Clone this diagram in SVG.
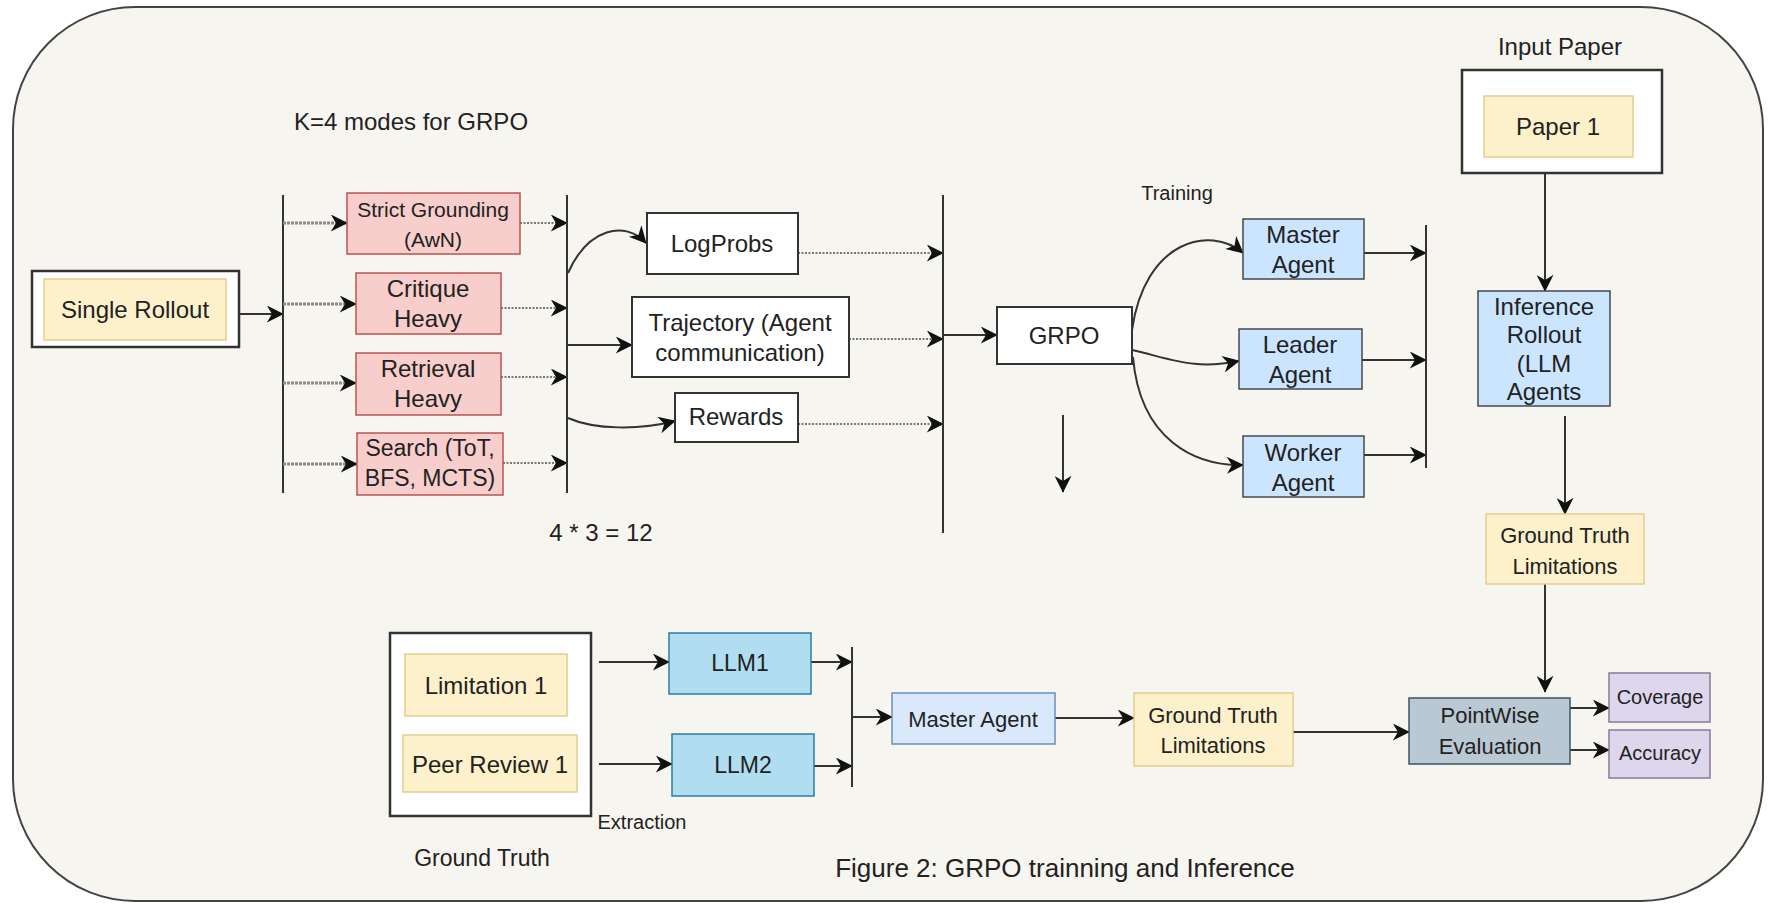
<svg xmlns="http://www.w3.org/2000/svg" width="1770" height="904" viewBox="0 0 1770 904">
<style>
text{font-family:"Liberation Sans",Arial,sans-serif;fill:#222;text-anchor:middle;dominant-baseline:central}
.f24{font-size:24px}.f22{font-size:22px}.f21{font-size:21px}.f20{font-size:20px}.f23{font-size:23px}
.white{fill:#fff;stroke:#333;stroke-width:2}
.frame{fill:#fff;stroke:#333;stroke-width:2.5}
.yel{fill:#fdf1cc;stroke:#e3cd8e;stroke-width:1.5}
.pink{fill:#f8cecc;stroke:#b85450;stroke-width:1.5}
.blue{fill:#cce5ff;stroke:#44484d;stroke-width:1.5}
.llm{fill:#b1ddf0;stroke:#2b7ea1;stroke-width:1.5}
.mast{fill:#dae8fc;stroke:#6c8ebf;stroke-width:1.5}
.pw{fill:#bac8d3;stroke:#3a5466;stroke-width:1.5}
.pur{fill:#ddd6ec;stroke:#857b9c;stroke-width:1.5}
.c{fill:none;stroke:#333;stroke-width:2;marker-end:url(#ah)}
.d{fill:none;stroke:#8a8a8a;stroke-width:3;stroke-dasharray:3 1;marker-end:url(#ah)}
.e{fill:none;stroke:#777;stroke-width:2;stroke-dasharray:2 1.5;marker-end:url(#ah)}
.bar{fill:none;stroke:#333;stroke-width:2}
</style>
<defs>
<marker id="ah" viewBox="0 0 10 10" refX="9.5" refY="5" markerWidth="20" markerHeight="17" markerUnits="userSpaceOnUse" orient="auto">
<path d="M0,0 L10,5 L0,10 L3,5 Z" fill="#111"/>
</marker>
</defs>
<rect x="13" y="7" width="1750" height="894" rx="122" ry="122" fill="#f7f5ef" stroke="#444" stroke-width="2"/>

<g id="labels">
<text class="f24" x="411" y="121">K=4 modes for GRPO</text>
<text class="f24" x="1560" y="46">Input Paper</text>
<text class="f20" x="1177" y="193">Training</text>
<text class="f24" x="601" y="532">4 * 3 = 12</text>
<text class="f20" x="642" y="822">Extraction</text>
<text class="f23" x="482" y="858">Ground Truth</text>
<text style="font-size:26px" x="1065" y="868">Figure 2: GRPO trainning and Inference</text>
</g>

<g id="connectors">
<path class="c" d="M239,314 H283"/>
<path class="bar" d="M283,195 V493"/>
<path class="d" d="M283,223 H347"/>
<path class="d" d="M283,304 H356"/>
<path class="d" d="M283,383 H356"/>
<path class="d" d="M283,464 H357"/>
<path class="e" d="M520,223 H567"/>
<path class="e" d="M501,308 H567"/>
<path class="e" d="M501,377 H567"/>
<path class="e" d="M503,463 H567"/>
<path class="bar" d="M567,195 V493"/>
<path class="c" d="M568,273 C588,228 625,220 646,243"/>
<path class="c" d="M568,345 H632"/>
<path class="c" d="M568,418 C595,430 640,430 675,421"/>
<path class="e" d="M798,253 H943"/>
<path class="e" d="M849,339 H943"/>
<path class="e" d="M798,424 H943"/>
<path class="bar" d="M943,195 V533"/>
<path class="c" d="M943,335 H997"/>
<path class="c" d="M1132,330 C1145,240 1210,225 1243,253"/>
<path class="c" d="M1132,350 C1175,360 1195,370 1239,361"/>
<path class="c" d="M1133,357 C1140,440 1195,466 1243,465"/>
<path class="c" d="M1063,415 V492"/>
<path class="c" d="M1364,253 H1426"/>
<path class="c" d="M1358,360 H1426"/>
<path class="c" d="M1360,455 H1426"/>
<path class="bar" d="M1426,225 V468"/>
<path class="c" d="M1545,173 V291"/>
<path class="c" d="M1565,416 V514"/>
<path class="c" d="M1545,584 V692"/>
<path class="c" d="M1570,708 H1609"/>
<path class="c" d="M1570,750 H1609"/>
<path class="c" d="M599,662 H669"/>
<path class="c" d="M599,764 H672"/>
<path class="c" d="M811,662 H852"/>
<path class="c" d="M814,766 H852"/>
<path class="bar" d="M852,647 V787"/>
<path class="c" d="M852,717 H892"/>
<path class="c" d="M1055,718 H1134"/>
<path class="c" d="M1293,732 H1409"/>
</g>

<g id="single-rollout">
<rect class="frame" x="32" y="271" width="207" height="76"/>
<rect class="yel" x="44" y="279" width="182" height="61"/>
<text class="f24" x="135" y="309">Single Rollout</text>
</g>
<g id="strict-grounding">
<rect class="pink" x="347" y="193" width="173" height="61"/>
<text class="f21" x="433" y="209">Strict Grounding</text>
<text class="f21" x="433" y="239">(AwN)</text>
</g>
<g id="critique-heavy">
<rect class="pink" x="356" y="273" width="145" height="61"/>
<text class="f24" x="428" y="288">Critique</text>
<text class="f24" x="428" y="318">Heavy</text>
</g>
<g id="retrieval-heavy">
<rect class="pink" x="356" y="353" width="145" height="62"/>
<text class="f24" x="428" y="368">Retrieval</text>
<text class="f24" x="428" y="398">Heavy</text>
</g>
<g id="search">
<rect class="pink" x="357" y="433" width="146" height="62"/>
<text class="f23" x="430" y="448">Search (ToT,</text>
<text class="f23" x="430" y="478">BFS, MCTS)</text>
</g>
<g id="logprobs">
<rect class="white" x="647" y="213" width="151" height="61"/>
<text class="f24" x="722" y="243">LogProbs</text>
</g>
<g id="trajectory">
<rect class="white" x="632" y="297" width="217" height="80"/>
<text class="f24" x="740" y="322">Trajectory (Agent</text>
<text class="f24" x="740" y="352">communication)</text>
</g>
<g id="rewards">
<rect class="white" x="675" y="393" width="123" height="49"/>
<text class="f24" x="736" y="416">Rewards</text>
</g>
<g id="grpo">
<rect class="white" x="997" y="307" width="135" height="57"/>
<text class="f24" x="1064" y="335">GRPO</text>
</g>
<g id="master-agent">
<rect class="blue" x="1243" y="219" width="121" height="60"/>
<text class="f24" x="1303" y="234">Master</text>
<text class="f24" x="1303" y="264">Agent</text>
</g>
<g id="leader-agent">
<rect class="blue" x="1239" y="329" width="123" height="60"/>
<text class="f24" x="1300" y="344">Leader</text>
<text class="f24" x="1300" y="374">Agent</text>
</g>
<g id="worker-agent">
<rect class="blue" x="1243" y="436" width="121" height="61"/>
<text class="f24" x="1303" y="452">Worker</text>
<text class="f24" x="1303" y="482">Agent</text>
</g>
<g id="input-paper">
<rect class="frame" x="1462" y="70" width="200" height="103"/>
<rect class="yel" x="1484" y="96" width="149" height="61"/>
<text class="f24" x="1558" y="126">Paper 1</text>
</g>
<g id="inference-rollout">
<rect class="blue" x="1478" y="291" width="132" height="115"/>
<text class="f24" x="1544" y="306">Inference</text>
<text class="f24" x="1544" y="334">Rollout</text>
<text class="f24" x="1544" y="363">(LLM</text>
<text class="f24" x="1544" y="391">Agents</text>
</g>
<g id="gt-limitations-right">
<rect class="yel" x="1486" y="514" width="158" height="70"/>
<text class="f22" x="1565" y="535">Ground Truth</text>
<text class="f22" x="1565" y="566">Limitations</text>
</g>
<g id="ground-truth">
<rect class="frame" x="390" y="633" width="201" height="183"/>
<rect class="yel" x="405" y="654" width="162" height="62"/>
<text class="f24" x="486" y="685">Limitation 1</text>
<rect class="yel" x="403" y="735" width="174" height="57"/>
<text class="f24" x="490" y="764">Peer Review 1</text>
</g>
<g id="llm1">
<rect class="llm" x="669" y="633" width="142" height="61"/>
<text class="f23" x="740" y="663">LLM1</text>
</g>
<g id="llm2">
<rect class="llm" x="672" y="734" width="142" height="62"/>
<text class="f23" x="743" y="765">LLM2</text>
</g>
<g id="master-agent-eval">
<rect class="mast" x="892" y="693" width="163" height="51"/>
<text class="f22" x="973" y="719">Master Agent</text>
</g>
<g id="gt-limitations-mid">
<rect class="yel" x="1134" y="693" width="159" height="73"/>
<text class="f22" x="1213" y="715">Ground Truth</text>
<text class="f22" x="1213" y="745">Limitations</text>
</g>
<g id="pointwise">
<rect class="pw" x="1409" y="698" width="161" height="66"/>
<text class="f22" x="1490" y="715">PointWise</text>
<text class="f22" x="1490" y="746">Evaluation</text>
</g>
<g id="coverage">
<rect class="pur" x="1609" y="673" width="101" height="49"/>
<text class="f20" x="1660" y="697">Coverage</text>
</g>
<g id="accuracy">
<rect class="pur" x="1609" y="730" width="101" height="48"/>
<text class="f20" x="1660" y="753">Accuracy</text>
</g>
</svg>
